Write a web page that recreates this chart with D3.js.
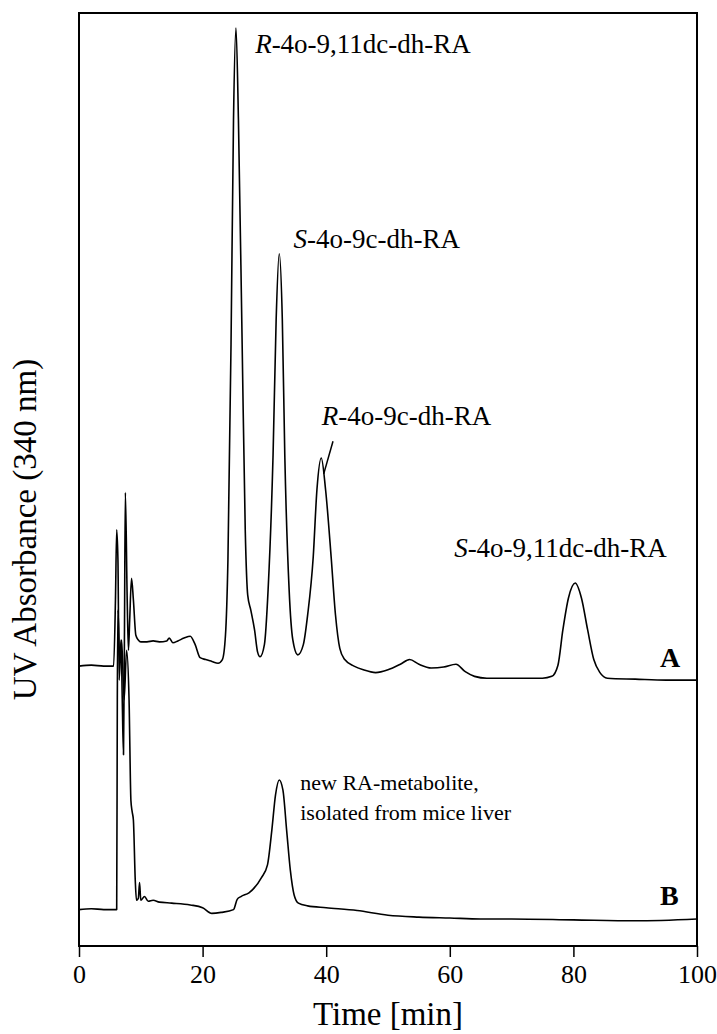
<!DOCTYPE html>
<html>
<head>
<meta charset="utf-8">
<script src="https://cdn.jsdelivr.net/npm/d3@7"></script>
<style>
  body { margin: 0; background: #fff; }
  svg { display: block; }
</style>
</head>
<body>
<svg id="chart" width="717" height="1034"></svg>
<script>
// chromatogram A (standards), time in min, absorbance in arbitrary units
const timeA = [0, 2, 4, 5.6, 5.9, 6.1, 6.3, 6.5, 6.8, 7.0, 7.2, 7.35, 7.5, 7.8, 8.0, 8.2, 8.5, 8.8, 9.2, 9.6,
  10, 11, 12, 13, 14.2, 14.6, 15.2, 16, 17, 18, 18.8, 19.6, 20.5, 21.5, 22.5, 23.2, 23.7, 24.1, 24.6, 25.0,
  25.4, 25.8, 26.4, 26.9, 27.3, 27.8, 28.4, 28.9, 29.3, 30.0, 30.6, 31.4, 31.9, 32.4, 32.9, 33.3, 34.0, 34.6,
  35.4, 36.3, 37.0, 37.9, 38.5, 39.2, 39.9, 40.8, 41.5, 42.2, 43.0, 44.5, 46, 48, 50, 52, 53.5, 55, 57, 59,
  61, 62.5, 64, 66, 70, 75, 76.5, 77.5, 78.3, 79.2, 80.3, 81.3, 82.3, 83.3, 84.3, 85.5, 90, 95, 100];
const absA = [30.0, 30.1, 30.0, 30.0, 37.1, 44.6, 41.4, 28.5, 32.8, 26.4, 20.5, 32.8, 48.6, 37.1, 31.7, 34.9, 39.4, 37.1, 33.3, 32.8,
  32.6, 32.6, 32.7, 32.6, 32.7, 33.0, 32.5, 32.7, 33.0, 33.2, 32.3, 30.9, 30.7, 30.5, 30.3, 30.7, 33.3, 41.4, 64.5, 88.5,
  98.4, 88.5, 64.5, 44.6, 37.6, 36.0, 33.9, 31.5, 31.0, 32.3, 38.2, 52.6, 67.1, 74.2, 67.1, 52.6, 38.2, 32.8,
  31.2, 32.3, 35.5, 41.7, 48.9, 52.3, 48.9, 41.7, 35.5, 31.9, 30.7, 30.0, 29.6, 29.3, 29.6, 30.2, 30.7, 30.2, 29.8, 29.9,
  30.2, 29.4, 28.9, 28.7, 28.7, 28.7, 28.9, 30.1, 33.9, 37.3, 38.9, 37.3, 33.9, 30.7, 29.3, 28.7, 28.6, 28.5, 28.5];

// chromatogram B (liver extract)
const timeB = [0, 2, 4, 6.0, 6.1, 6.2, 6.3, 6.6, 6.9, 7.3, 7.7, 8.1, 8.4, 8.6, 8.8, 9.1, 9.3, 9.6, 9.8, 10.0,
  10.6, 11.2, 12, 13, 15, 18, 20, 21.5, 23, 25, 25.6, 26.2, 27.5, 29.5, 30.5, 31.2, 31.8, 32.4, 33.0, 33.6,
  34.2, 34.8, 35.5, 37, 40, 45, 50, 55, 60, 65, 70, 80, 90, 100];
const absB = [3.9, 4.0, 3.9, 3.9, 3.9, 26.4, 36.0, 30.7, 32.8, 26.4, 31.7, 26.4, 15.6, 14.4, 13.5, 7.1, 4.9, 5.1, 6.8, 4.9,
  5.3, 4.8, 4.9, 4.7, 4.6, 4.4, 4.1, 3.5, 3.6, 3.9, 5.0, 5.3, 5.7, 7.3, 8.7, 12.4, 16.2, 17.8, 16.7, 12.4,
  8.1, 5.5, 4.6, 4.3, 4.1, 3.8, 3.3, 3.1, 3.0, 2.9, 2.9, 2.8, 2.7, 2.9];

const xTicks = [0, 20, 40, 60, 80, 100];

// peak labels: [italic prefix, rest, t, absorbance]
const peakLabels = [
  ['R', '-4o-9,11dc-dh-RA', 28.5, 95.7],
  ['S', '-4o-9c-dh-RA', 34.7, 74.8],
  ['R', '-4o-9c-dh-RA', 39.3, 55.8],
  ['S', '-4o-9,11dc-dh-RA', 60.7, 41.7]
];

const FONT = '"Liberation Serif", "Times New Roman", Times, serif';
const svg = d3.select('#chart');
const m = { left: 79, right: 697, top: 13, bottom: 946 };

const x = d3.scaleLinear().domain([0, 100]).range([m.left, m.right]);
const y = d3.scaleLinear().domain([0, 100]).range([m.bottom, m.top]);

const line = d3.line()
  .x(d => x(d[0]))
  .y(d => y(d[1]))
  .curve(d3.curveMonotoneX);

// traces
[[timeA, absA], [timeB, absB]].forEach(([t, a]) => {
  svg.append('path')
    .datum(d3.zip(t, a))
    .attr('d', line)
    .attr('fill', 'none')
    .attr('stroke', '#000')
    .attr('stroke-width', 1.6)
    .attr('stroke-linejoin', 'round');
});

// frame
svg.append('rect')
  .attr('x', m.left).attr('y', m.top)
  .attr('width', m.right - m.left).attr('height', m.bottom - m.top)
  .attr('fill', 'none').attr('stroke', '#000').attr('stroke-width', 2);

// x axis
const xAxis = svg.append('g')
  .attr('transform', `translate(0,${m.bottom})`)
  .call(d3.axisBottom(x).tickValues(xTicks).tickSize(11).tickPadding(8).tickFormat(d3.format('d')));
xAxis.select('.domain').remove();
xAxis.selectAll('line').attr('stroke-width', 1.5);
xAxis.selectAll('text')
  .attr('font-family', FONT)
  .attr('font-size', 26)
  .attr('fill', '#000');

svg.append('text')
  .attr('x', (m.left + m.right) / 2).attr('y', 1025)
  .attr('text-anchor', 'middle')
  .attr('font-family', FONT)
  .attr('font-size', 33)
  .text('Time [min]');

svg.append('text')
  .attr('transform', `translate(36,${(m.top + m.bottom) / 2 + 50}) rotate(-90)`)
  .attr('text-anchor', 'middle')
  .attr('font-family', FONT)
  .attr('font-size', 33)
  .text('UV Absorbance (340 nm)');

// peak labels
peakLabels.forEach(([it, rest, t, a]) => {
  const txt = svg.append('text')
    .attr('x', x(t)).attr('y', y(a))
    .attr('font-family', FONT)
    .attr('font-size', 27);
  txt.append('tspan').attr('font-style', 'italic').text(it);
  txt.append('tspan').text(rest);
});

// pointer for R-4o-9c-dh-RA
svg.append('line')
  .attr('x1', x(41.1)).attr('y1', y(54.1))
  .attr('x2', x(39.6)).attr('y2', y(50.6))
  .attr('stroke', '#000').attr('stroke-width', 1.5);

svg.append('text')
  .attr('x', x(35.8)).attr('y', y(16.7))
  .attr('font-family', FONT)
  .attr('font-size', 22)
  .text('new RA-metabolite,');
svg.append('text')
  .attr('x', x(35.8)).attr('y', y(13.5))
  .attr('font-family', FONT)
  .attr('font-size', 22)
  .text('isolated from mice liver');

// trace names
svg.append('text')
  .attr('x', x(94.0)).attr('y', y(29.9))
  .attr('font-family', FONT)
  .attr('font-size', 28).attr('font-weight', 'bold')
  .text('A');
svg.append('text')
  .attr('x', x(94.0)).attr('y', y(4.4))
  .attr('font-family', FONT)
  .attr('font-size', 28).attr('font-weight', 'bold')
  .text('B');
</script>
</body>
</html>
